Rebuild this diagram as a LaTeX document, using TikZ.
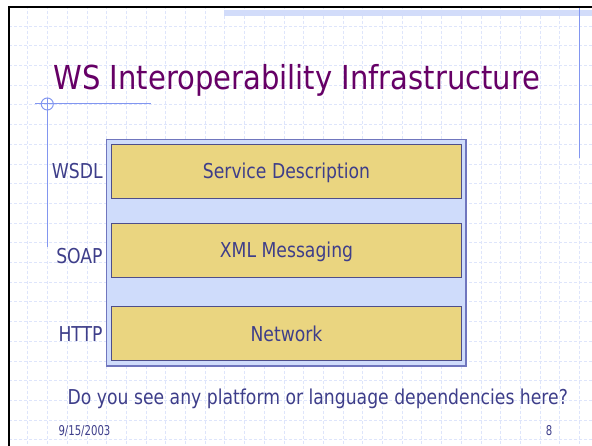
\documentclass[tikz,border=0pt]{standalone}
\usepackage{fontspec}
\setmainfont{DejaVu Sans}[FakeStretch=0.88]
\newfontfamily\bodyfont{DejaVu Sans}[FakeStretch=0.84]
\newfontfamily\footfont{DejaVu Sans}[FakeStretch=0.75]
\usetikzlibrary{positioning}

\definecolor{titlepurple}{RGB}{102,0,102}
\definecolor{slidetext}{RGB}{62,62,138}
\definecolor{gridblue}{RGB}{222,229,251}
\definecolor{decoblue}{RGB}{130,150,240}
\definecolor{bandblue}{RGB}{210,220,250}
\definecolor{stackfill}{RGB}{207,220,251}
\definecolor{stackline}{RGB}{112,118,190}
\definecolor{layerfill}{RGB}{234,213,128}
\definecolor{layerline}{RGB}{78,78,138}

\begin{document}
\begin{tikzpicture}[x=1pt, y=-1pt,
  stack/.style={rectangle, draw=stackline, fill=stackfill, line width=1.3pt, minimum width=359.5pt, minimum height=226.7pt, inner sep=0pt},
  layer/.style={rectangle, draw=layerline, fill=layerfill, line width=1pt, minimum width=350.4pt, minimum height=54pt, inner sep=0pt, text height=15pt, text depth=0pt, text=slidetext, font=\bodyfont\fontsize{20.5}{24}\selectfont},
  proto/.style={anchor=base east, inner sep=0pt, text=slidetext, font=\bodyfont\fontsize{20.5}{24}\selectfont},
  foot/.style={anchor=base west, inner sep=0pt, text=slidetext, font=\footfont\fontsize{13.5}{16}\selectfont}]

  \useasboundingbox (0,0) rectangle (592,446);
  \fill[white] (0,0) rectangle (592,446);

  % background grid
  \foreach \i in {1,...,29}
    \draw[gridblue, line width=0.8pt, dash pattern=on 3pt off 2pt] (8.1+19.7*\i,6) -- (8.1+19.7*\i,446);
  \foreach \j in {1,...,22}
    \draw[gridblue, line width=0.8pt, dash pattern=on 3pt off 2pt] (9,6.4+19.7*\j) -- (592,6.4+19.7*\j);

  % slide frame and decoration
  \fill[bandblue] (224,10) rectangle (592,16);
  \draw[black, line width=2pt] (9,446) -- (9,6.7) -- (592,6.7);
  \draw[decoblue, line width=1pt] (579.3,8) -- (579.3,158);
  \draw[decoblue, line width=1pt] (35,104) -- (150.7,104);
  \draw[decoblue, line width=1pt] (47.3,98) -- (47.3,247);
  \draw[decoblue, line width=1pt] (47.3,104) circle (6);

  \node[anchor=base west, inner sep=0pt, text=titlepurple, font=\fontsize{33}{38}\selectfont] (title) at (53.3,90) {WS Interoperability Infrastructure};

  \node[stack] (stack) at (286.25,252.65) {};
  \node[layer] (desc) at (286.5,171.3) {Service Description};
  \node[layer, below of=desc, node distance=78.9pt] (msg) {XML Messaging};
  \node[layer, below of=msg, node distance=83.7pt] (net) {Network};

  \node[proto] (wsdl) at ([xshift=-8pt]desc.base west) {WSDL};
  \node[proto] (soap) at ([xshift=-8pt, yshift=-5.7pt]msg.base west) {SOAP};
  \node[proto] (http) at ([xshift=-8pt]net.base west) {HTTP};

  \node[anchor=base, inner sep=0pt, text=slidetext, font=\bodyfont\fontsize{20.5}{24}\selectfont] (question) at (317.8,405) {Do you see any platform or language dependencies here?};
  \node[foot] (date) at (58.3,435.7) {9/15/2003};
  \node[foot] (pageno) at (545.7,435.7) {8};
\end{tikzpicture}
\end{document}
